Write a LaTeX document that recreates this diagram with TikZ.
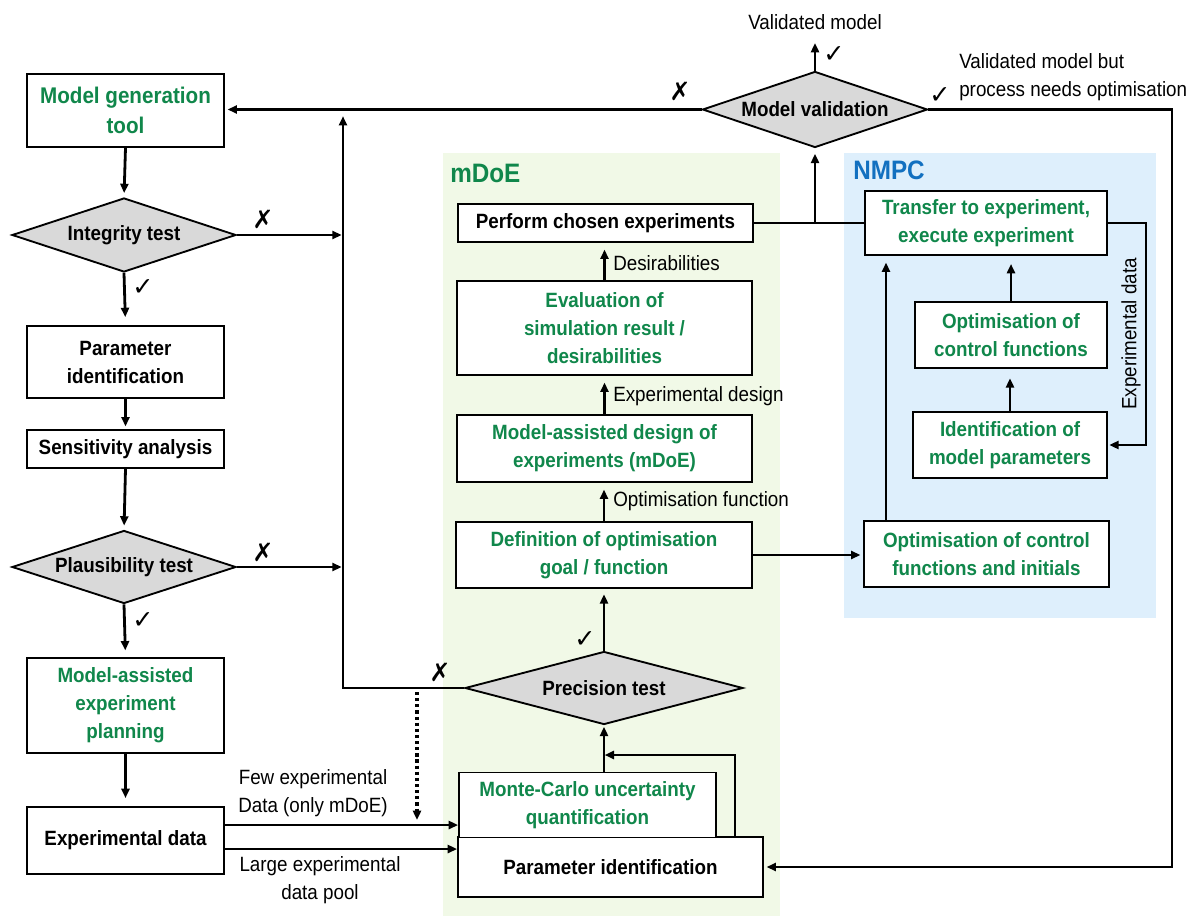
\documentclass[tikz,border=0pt]{standalone}
\usepackage{fontspec}
\setmainfont{Liberation Sans}[FakeStretch=0.91]
\newfontfamily\dvsfont{DejaVu Sans}
\usetikzlibrary{shapes.geometric,arrows.meta}

\definecolor{mgreen}{RGB}{16,135,75}
\definecolor{nblue}{RGB}{18,112,192}
\definecolor{mdoebg}{RGB}{241,249,231}
\definecolor{nmpcbg}{RGB}{222,239,252}
\definecolor{testgray}{RGB}{217,217,217}

\begin{document}
\begin{tikzpicture}[x=0.75pt,y=-0.75pt,
  every node/.style={inner sep=0pt},
  sz/.style 2 args={minimum width=#1*0.75pt, minimum height=#2*0.75pt},
  box/.style={draw, line width=1.4pt, fill=white, align=center,
    font=\bfseries\fontsize{15.5}{21}\selectfont},
  gbox/.style={box, text=mgreen},
  test/.style={diamond, aspect=3, draw, line width=1.4pt, fill=testgray,
    font=\bfseries\fontsize{15.5}{21}\selectfont},
  conn/.style={line width=2.1pt},
  arr/.style={conn, -{Triangle[length=7pt,width=6pt]}, shorten >=2pt},
  lbl/.style={align=center, font=\fontsize{15.5}{20.5}\selectfont},
  okmark/.style={font=\dvsfont\fontsize{19}{19}\selectfont},
  nomark/.style={font=\dvsfont\fontsize{19}{19}\selectfont},
  grouptitle/.style={anchor=west, font=\bfseries\fontsize{20}{24}\selectfont}
]
% canvas
\fill[white] (0,0) rectangle (1191,916);
\useasboundingbox (0,0) rectangle (1191,916);

% group backgrounds
\fill[mdoebg] (443,153) rectangle (780,916);
\fill[nmpcbg] (844,153) rectangle (1156,618);
\node[grouptitle, text=mgreen] (mdoetitle) at (450,173) {mDoE};
\node[grouptitle, text=nblue] (nmpctitle) at (853,170) {NMPC};

% left column
\node[gbox, sz={197}{73}, font=\bfseries\fontsize{17}{22.5}\selectfont] (mgt) at (125.5,110.5) {Model generation\\tool};
\node[test, sz={224}{74}] (integ) at (124,235) {Integrity test};
\node[box, sz={197}{72}] (pid1) at (125.5,362) {Parameter\\identification};
\node[box, sz={197}{38}] (sens) at (125.5,449) {Sensitivity analysis};
\node[test, sz={224}{73}] (plaus) at (124,567) {Plausibility test};
\node[gbox, sz={197}{95}] (maep) at (125.5,705.5) {Model-assisted\\experiment\\planning};
\node[box, sz={197}{67}] (expd) at (125.5,840.5) {Experimental data};

% mDoE column
\node[box, sz={295}{38}] (perf) at (605.5,223) {Perform chosen experiments};
\node[gbox, sz={295}{94}] (eval) at (604.5,328) {Evaluation of\\simulation result /\\desirabilities};
\node[gbox, sz={295}{67}] (mdoebox) at (604.5,448.5) {Model-assisted design of\\experiments (mDoE)};
\node[gbox, sz={296}{66}] (defn) at (604,555) {Definition of optimisation\\goal / function};
\node[test, sz={278}{73}] (prec) at (604,688) {Precision test};
\node[box, sz={305}{60}] (pid2) at (610.5,867) {Parameter identification};
\node[gbox, sz={257}{65}] (mc) at (587.5,805) {Monte-Carlo uncertainty\\quantification};

% validation
\node[test, sz={225}{76}] (valid) at (815,109.5) {Model validation};
\node[lbl] (vmodel) at (815,22) {Validated model};
\node[lbl, align=left, anchor=west] (vopt) at (959,77) {Validated model but\\process needs optimisation};

% NMPC column
\node[gbox, sz={242}{64}] (trans) at (986,223) {Transfer to experiment,\\execute experiment};
\node[gbox, sz={192}{66}] (optc) at (1011,335) {Optimisation of\\control functions};
\node[gbox, sz={194}{66}] (ident) at (1010,445) {Identification of\\model parameters};
\node[gbox, sz={245}{66}] (opti) at (986.5,554) {Optimisation of control\\functions and initials};

% junction points
\coordinate (jx) at (343,0);
\coordinate (rx) at (1172,0);
\coordinate (ex) at (1146,0);
\coordinate (ox) at (886,0);
\coordinate (lx) at (735,755);
\coordinate (vtop) at (815,43);
\coordinate (dtop) at (417,692);
\coordinate (dbot) at (417,820);

% left column flow
\draw[arr, shorten >=3pt] (mgt.south) -- (integ.north);
\draw[arr, shorten >=6pt] (integ.south) -- (pid1.north);
\draw[arr, shorten >=2pt] (pid1.south) -- (sens.north);
\draw[arr, shorten >=3pt] (sens.south) -- (plaus.north);
\draw[arr, shorten >=5pt] (plaus.south) -- (maep.north);
\draw[arr, shorten >=6pt] (maep.south) -- (expd.north);
\node[okmark] (ok1) at (143,288) {✓};
\node[okmark] (ok2) at (143,621) {✓};

% failed tests feed back to model generation
\draw[arr, shorten >=1pt] (integ.east) -- (jx |- integ.east);
\draw[arr, shorten >=1pt] (plaus.east) -- (jx |- plaus.east);
\draw[arr, shorten >=5pt] (prec.west) -- (jx |- prec.west) -- (jx |- valid.west);
\draw[arr] (valid.west) -- (valid.west -| mgt.east);
\node[nomark] (no1) at (263,219) {✗};
\node[nomark] (no2) at (263,552) {✗};
\node[nomark] (no3) at (440,672) {✗};
\node[nomark] (no4) at (680,91) {✗};

% experimental data into parameter identification
\draw[arr, shorten >=0pt] ([yshift=11.6pt]expd.east) -- ([yshift=11.6pt]expd.east -| mc.west);
\draw[arr, shorten >=0pt] ([yshift=-6.4pt]expd.east) -- ([yshift=-6.4pt]expd.east -| pid2.west);
\node[lbl] (fewlbl) at (313,793) {Few experimental\\Data (only mDoE)};
\node[lbl] (largelbl) at (320,880) {Large experimental\\data pool};
\draw[line width=2.6pt, dash pattern=on 2.4pt off 2.2pt, -{Triangle[length=7pt,width=6pt]}] (dtop) -- (dbot);

% mDoE flow
\draw[arr, shorten >=1pt] (prec.south |- mc.north) -- (prec.south);
\draw[arr, shorten >=0.5pt] (lx |- pid2.north) -- (lx) -- (lx -| prec.south);
\draw[arr, shorten >=4pt] (prec.north) -- (prec.north |- defn.south);
\node[okmark] (ok3) at (585,640) {✓};
\draw[arr, shorten >=5pt] (defn.north) -- (defn.north |- mdoebox.south);
\node[lbl, anchor=west] (optfn) at (613,501) {Optimisation function};
\draw[arr, shorten >=5pt] (mdoebox.north) -- (mdoebox.north |- eval.south);
\node[lbl, anchor=west] (expdes) at (613,396) {Experimental design};
\draw[arr, shorten >=5pt] (eval.north) -- (eval.north |- perf.south);
\node[lbl, anchor=west] (desir) at (613,263) {Desirabilities};
\draw[arr, shorten >=2pt] (defn.east) -- (defn.east -| opti.west);

% experiments to validation and NMPC
\draw[conn] (perf.east) -- (trans.west);
\draw[arr, shorten >=4pt] (valid.south |- perf.east) -- (valid.south);
\draw[arr, shorten >=0pt] (valid.north) -- (vtop);
\node[okmark] (ok4) at (834,55) {✓};
\node[okmark] (ok5) at (940,96) {✓};
\draw[arr] (valid.east) -| (rx |- pid2.east) -- (pid2.east);

% NMPC flow
\draw[arr, shorten >=5pt] (ox |- opti.north) -- (ox |- trans.south);
\draw[arr, shorten >=6pt] (optc.north) -- (optc.north |- trans.south);
\draw[arr, shorten >=7pt] (ident.north) -- (ident.north |- optc.south);
\draw[arr, shorten >=1pt] (trans.east) -- (ex |- trans.east) -- (ex |- ident.east) -- (ident.east);
\node[lbl, rotate=90] (explbl) at (1131,334) {Experimental data};
\end{tikzpicture}
\end{document}
